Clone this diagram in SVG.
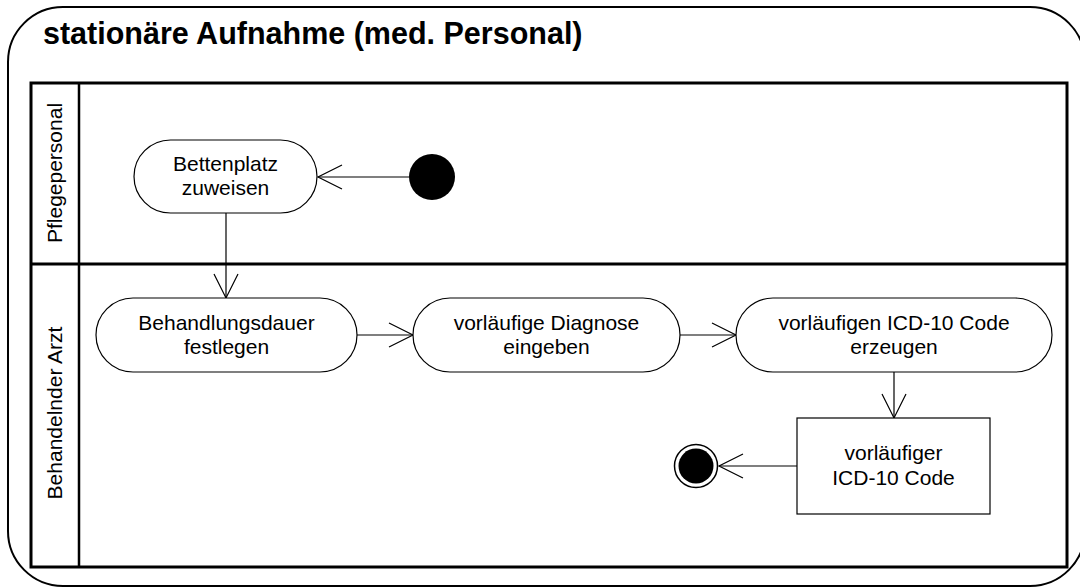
<svg xmlns="http://www.w3.org/2000/svg" width="1080" height="587" viewBox="0 0 1080 587">
  <defs>
    <marker id="open-arrow" markerUnits="userSpaceOnUse" markerWidth="30" markerHeight="30" viewBox="-26 -15 30 30" refX="0" refY="0" orient="auto" overflow="visible">
      <path d="M-24,-12 L0,0 L-24,12" fill="none" stroke="#000" stroke-width="1.2"/>
    </marker>
    <style>
      .frame { fill: #fff; stroke: #000; stroke-width: 2; }
      .lane { fill: none; stroke: #000; stroke-width: 3; }
      .lane-sep { stroke: #000; stroke-width: 2.5; }
      .action { fill: #fff; stroke: #000; stroke-width: 1.2; }
      .object { fill: #fff; stroke: #000; stroke-width: 1.2; }
      .edge { fill: none; stroke: #000; stroke-width: 1.2; marker-end: url(#open-arrow); }
      .label { font-family: "Liberation Sans", Arial, sans-serif; font-size: 21px; fill: #000; text-anchor: middle; }
      .title { font-family: "Liberation Sans", Arial, sans-serif; font-size: 30.5px; font-weight: bold; fill: #000; }
    </style>
  </defs>

  <rect width="1080" height="587" fill="#fff"/>

  <!-- activity frame -->
  <g id="frame">
    <rect class="frame" x="8" y="7" width="1077" height="579" rx="55" ry="55"/>
    <text class="title" x="43" y="44">stationäre Aufnahme (med. Personal)</text>
  </g>

  <!-- swimlanes -->
  <g id="lanes">
    <rect class="lane" x="31" y="83" width="1036" height="484"/>
    <line class="lane-sep" x1="79" y1="83" x2="79" y2="567"/>
    <line class="lane" x1="31" y1="264" x2="1067" y2="264"/>
    <text class="label" transform="translate(62,173) rotate(-90)">Pflegepersonal</text>
    <text class="label" transform="translate(62,413) rotate(-90)">Behandelnder Arzt</text>
  </g>

  <!-- connectors -->
  <g id="connectors">
    <line class="edge" x1="409" y1="177" x2="318" y2="177"/>
    <line class="edge" x1="226" y1="213" x2="226" y2="298"/>
    <line class="edge" x1="357" y1="335" x2="413" y2="335"/>
    <line class="edge" x1="680" y1="335" x2="736" y2="335"/>
    <line class="edge" x1="894" y1="372" x2="894" y2="418"/>
    <line class="edge" x1="797" y1="466" x2="719" y2="466"/>
  </g>

  <g id="start">
    <circle cx="432" cy="177" r="23" fill="#000"/>
  </g>

  <g id="bettenplatz">
    <rect class="action" x="134" y="140" width="183" height="73" rx="36.5" ry="36.5"/>
    <text class="label" x="225.5" y="171">Bettenplatz</text>
    <text class="label" x="225.5" y="195">zuweisen</text>
  </g>

  <g id="behandlungsdauer">
    <rect class="action" x="96" y="298" width="261" height="74" rx="37" ry="37"/>
    <text class="label" x="226.5" y="330">Behandlungsdauer</text>
    <text class="label" x="226.5" y="354">festlegen</text>
  </g>

  <g id="diagnose">
    <rect class="action" x="413" y="298" width="267" height="74" rx="37" ry="37"/>
    <text class="label" x="546.5" y="330">vorläufige Diagnose</text>
    <text class="label" x="546.5" y="354">eingeben</text>
  </g>

  <g id="icd-erzeugen">
    <rect class="action" x="736" y="298" width="316" height="74" rx="37" ry="37"/>
    <text class="label" x="894" y="330">vorläufigen ICD-10 Code</text>
    <text class="label" x="894" y="354">erzeugen</text>
  </g>

  <g id="icd-objekt">
    <rect class="object" x="797" y="418" width="193" height="96"/>
    <text class="label" x="893.5" y="460">vorläufiger</text>
    <text class="label" x="893.5" y="485">ICD-10 Code</text>
  </g>

  <g id="end">
    <circle cx="696" cy="466" r="21.5" fill="#fff" stroke="#000" stroke-width="1.5"/>
    <circle cx="696" cy="466" r="17.5" fill="#000"/>
  </g>
</svg>
